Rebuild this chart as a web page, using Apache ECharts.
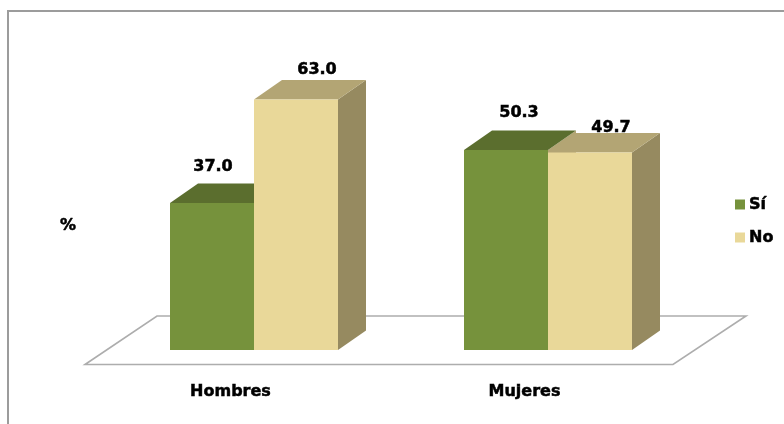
<!DOCTYPE html>
<html>
<head>
<meta charset="utf-8">
<style>html,body{margin:0;padding:0;background:#fff}#c{width:784px;height:424px}</style>
<script src="https://cdn.jsdelivr.net/npm/echarts@6/dist/echarts.min.js"></script>
</head>
<body>
<div id="c"></div>
<script>
const categories = ['Hombres', 'Mujeres'];
const seriesNames = ['Sí', 'No'];
const siValues = [37.0, 50.3];
const noValues = [63.0, 49.7];

const FONT = '"DejaVu Sans"';
const HEAVY = {textBorderColor: '#000', textBorderWidth: 0.5};
const DEPTH_X = 28, DEPTH_Y = 19.5;
const BAR_RATIO = 2 / 7;
const PALETTE = {
  'Sí': {front: '#76923c', top: '#5b6e2e', side: '#b3a574'},
  'No': {front: '#e9d899', top: '#b3a574', side: '#968a60'}
};
// label shift from the centre of each bar's front top edge, by series then category
const LABEL_SHIFT = {
  'Sí': [[1, -36], [13, -37]],
  'No': [[21, -30], [21, -25]]
};

function barRenderer(name, sign) {
  return function (params, api) {
    const i = params.dataIndex;
    const band = api.size([1, 0])[0];
    const w = band * BAR_RATIO;
    const centre = api.coord([i, 0])[0];
    const x0 = sign < 0 ? centre - w : centre;
    const x1 = x0 + w;
    const yb = api.coord([i, 0])[1];
    const yt = api.coord([i, api.value(1)])[1];
    const c = PALETTE[name];
    const shift = LABEL_SHIFT[name][i];
    return {
      type: 'group',
      children: [
        {type: 'polygon', shape: {points: [[x1, yt], [x1 + DEPTH_X, yt - DEPTH_Y], [x1 + DEPTH_X, yb - DEPTH_Y], [x1, yb]]}, style: {fill: c.side}},
        {type: 'polygon', shape: {points: [[x0, yt], [x0 + DEPTH_X, yt - DEPTH_Y], [x1 + DEPTH_X, yt - DEPTH_Y], [x1, yt]]}, style: {fill: c.top}},
        {type: 'rect', shape: {x: x0, y: yt, width: w, height: yb - yt}, style: {fill: c.front}},
        {type: 'text', z2: 10, style: {
          text: api.value(1).toFixed(1),
          x: (x0 + x1) / 2 + shift[0], y: yt + shift[1],
          align: 'center', verticalAlign: 'middle',
          font: 'bold 16px ' + FONT, fill: '#000',
          stroke: '#000', lineWidth: 0.5
        }}
      ]
    };
  };
}

function floorRenderer(params) {
  const g = params.coordSys;
  const base = g.y + g.height;
  return {
    type: 'polygon',
    shape: {points: [
      [g.x - 22, base + 14.5],
      [g.x + 50, base - 34],
      [g.x + g.width + 51, base - 34],
      [g.x + g.width - 22, base + 14.5]
    ]},
    style: {fill: '#fff', stroke: '#adadad', lineWidth: 1.6}
  };
}

const chart = echarts.init(document.getElementById('c'), null, {renderer: 'canvas'});
chart.setOption({
  animation: false,
  backgroundColor: '#fff',
  title: {
    text: '%', left: 55, top: 213,
    textStyle: Object.assign({fontFamily: FONT, fontSize: 16, fontWeight: 'bold', color: '#000'}, HEAVY)
  },
  legend: {
    data: seriesNames,
    orient: 'vertical', left: 730, top: 190,
    icon: 'rect', itemWidth: 10, itemHeight: 10, itemGap: 14,
    selectedMode: false,
    textStyle: Object.assign({fontFamily: FONT, fontSize: 16, fontWeight: 'bold', color: '#000', padding: [0, 0, 0, -1], lineHeight: 19}, HEAVY)
  },
  grid: {left: 107, top: 32, width: 588, height: 318},
  xAxis: {
    type: 'category', data: categories,
    axisLine: {show: false}, axisTick: {show: false}, splitLine: {show: false},
    axisLabel: Object.assign({fontFamily: FONT, fontSize: 16, fontWeight: 'bold', color: '#000', margin: 34, padding: [0, 47, 0, 0]}, HEAVY)
  },
  yAxis: {type: 'value', min: 0, max: 80, show: false},
  graphic: [{
    type: 'polyline', silent: true, z: -1,
    shape: {points: [[8, 424], [8, 11], [784, 11]]},
    style: {fill: 'none', stroke: '#9c9c9c', lineWidth: 2}
  }],
  series: [
    {type: 'custom', silent: true, z: 1, data: [[0, 0]], renderItem: floorRenderer, encode: {x: 0, y: 1}},
    {type: 'custom', name: seriesNames[0], z: 2, itemStyle: {color: PALETTE['Sí'].front},
      data: categories.map((c, i) => [i, siValues[i]]), encode: {x: 0, y: 1}, renderItem: barRenderer(seriesNames[0], -1)},
    {type: 'custom', name: seriesNames[1], z: 3, itemStyle: {color: PALETTE['No'].front},
      data: categories.map((c, i) => [i, noValues[i]]), encode: {x: 0, y: 1}, renderItem: barRenderer(seriesNames[1], 1)}
  ]
});
</script>
</body>
</html>
